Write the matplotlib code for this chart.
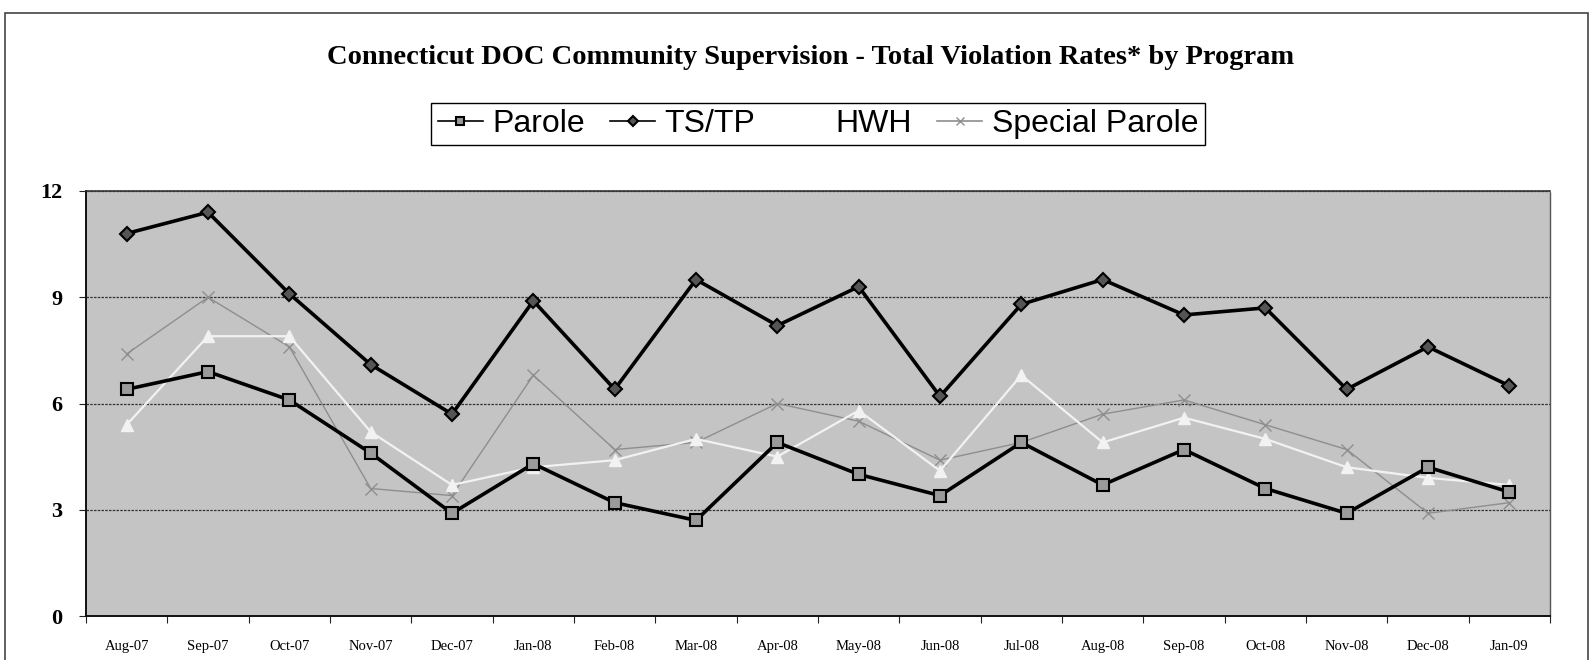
import matplotlib
matplotlib.use("Agg")
import matplotlib.pyplot as plt
from matplotlib.patches import Rectangle

# months on the x axis
months = ["Aug-07", "Sep-07", "Oct-07", "Nov-07", "Dec-07", "Jan-08", "Feb-08", "Mar-08", "Apr-08",
          "May-08", "Jun-08", "Jul-08", "Aug-08", "Sep-08", "Oct-08", "Nov-08", "Dec-08", "Jan-09"]

# violation rates
parole = [6.4, 6.9, 6.1, 4.6, 2.9, 4.3, 3.2, 2.7, 4.9, 4.0, 3.4, 4.9, 3.7, 4.7, 3.6, 2.9, 4.2, 3.5]
tstp = [10.8, 11.4, 9.1, 7.1, 5.7, 8.9, 6.4, 9.5, 8.2, 9.3, 6.2, 8.8, 9.5, 8.5, 8.7, 6.4, 7.6, 6.5]
hwh = [5.4, 7.9, 7.9, 5.2, 3.7, 4.2, 4.4, 5.0, 4.5, 5.8, 4.1, 6.8, 4.9, 5.6, 5.0, 4.2, 3.9, 3.7]
special_parole = [7.4, 9.0, 7.6, 3.6, 3.4, 6.8, 4.7, 4.9, 6.0, 5.5, 4.4, 4.9, 5.7, 6.1, 5.4, 4.7, 2.9, 3.2]

yticks = [0, 3, 6, 9, 12]

W, H = 1593, 660
fig = plt.figure(figsize=(W / 100, H / 100), dpi=100)
fig.patch.set_facecolor("white")

# outer chart border (bottom edge falls off the page like the scan)
fig.patches.append(Rectangle((5 / W, -0.05), (1588 - 5) / W, 1.05 - 13 / H,
                             transform=fig.transFigure, fill=False, edgecolor="#444444", linewidth=1.2))

# plot area in pixels: left 86, right 1550, top 191, bottom 616
ax = fig.add_axes([86 / W, 1 - 616 / H, (1550 - 86) / W, (616 - 191) / H])
ax.set_facecolor("#c4c4c4")

x = list(range(len(months)))

ax.plot(x, special_parole, color="#8e8e8e", linewidth=1.0, marker="x", markersize=9,
        markeredgewidth=1.0, label="Special Parole", zorder=3)
ax.plot(x, hwh, color="#f2f2f2", linewidth=1.6, marker="^", markersize=8,
        markerfacecolor="#f2f2f2", markeredgecolor="#f2f2f2", label="HWH", zorder=3)
ax.plot(x, tstp, color="black", linewidth=2.6, marker="D", markersize=7,
        markerfacecolor="#555555", markeredgecolor="black", markeredgewidth=1.5, label="TS/TP", zorder=4)
ax.plot(x, parole, color="black", linewidth=2.6, marker="s", markersize=9,
        markerfacecolor="#9a9a9a", markeredgecolor="black", markeredgewidth=1.5, label="Parole", zorder=5)

ax.set_xlim(-0.5, len(months) - 0.5)
ax.set_ylim(0, 12)
ax.set_yticks(yticks)
ax.set_yticklabels([str(v) for v in yticks], fontfamily="Liberation Serif", fontweight="bold", fontsize=16)
ax.yaxis.grid(True, color="#333333", linewidth=0.9, linestyle=(0, (2, 1)))
ax.set_axisbelow(True)

# category ticks sit between the months, labels centered under each month
ax.set_xticks([i - 0.5 for i in range(len(months) + 1)])
ax.set_xticklabels([])
ax.set_xticks(x, minor=True)
ax.set_xticklabels(months, minor=True, fontfamily="Liberation Serif", fontsize=10.5)
ax.tick_params(axis="x", which="major", length=5, direction="out", color="#222222")
ax.tick_params(axis="x", which="minor", length=0, pad=17)
ax.tick_params(axis="y", length=5, direction="out", pad=12, color="#222222")

for side in ["left", "bottom"]:
    ax.spines[side].set_color("#111111")
    ax.spines[side].set_linewidth(1.4)
ax.spines["top"].set_color("#333333")
ax.spines["top"].set_linewidth(1.2)
ax.spines["right"].set_color("#555555")
ax.spines["right"].set_linewidth(1.0)
ax.spines["right"].set_linestyle((0, (1, 1)))

fig.text(811 / W, 1 - 57 / H, "Connecticut DOC Community Supervision - Total Violation Rates* by Program",
         ha="center", va="center", fontfamily="Liberation Serif", fontweight="bold", fontsize=20.5)

# legend in the same order as the original
handles, labels = ax.get_legend_handles_labels()
order = ["Parole", "TS/TP", "HWH", "Special Parole"]
hs = [handles[labels.index(n)] for n in order]
leg = fig.legend(hs, order, loc="center", bbox_to_anchor=(818 / W, 1 - 124 / H), ncol=4,
                 frameon=True, fancybox=False, edgecolor="black", framealpha=1,
                 prop={"family": "Liberation Sans", "size": 23},
                 handlelength=1.4, handletextpad=0.3, columnspacing=0.8, borderpad=0.2,
                 markerscale=0.7)
leg.get_frame().set_linewidth(1.0)
# thinner lines in the legend keys, like the original; the white HWH key vanishes on white
for line in leg.get_lines():
    line.set_linewidth(1.2)
    if line.get_label() == "HWH" or line.get_color() == "#f2f2f2":
        line.set_color("white")
        line.set_markerfacecolor("white")
        line.set_markeredgecolor("white")

plt.savefig("out.png", dpi=100)
